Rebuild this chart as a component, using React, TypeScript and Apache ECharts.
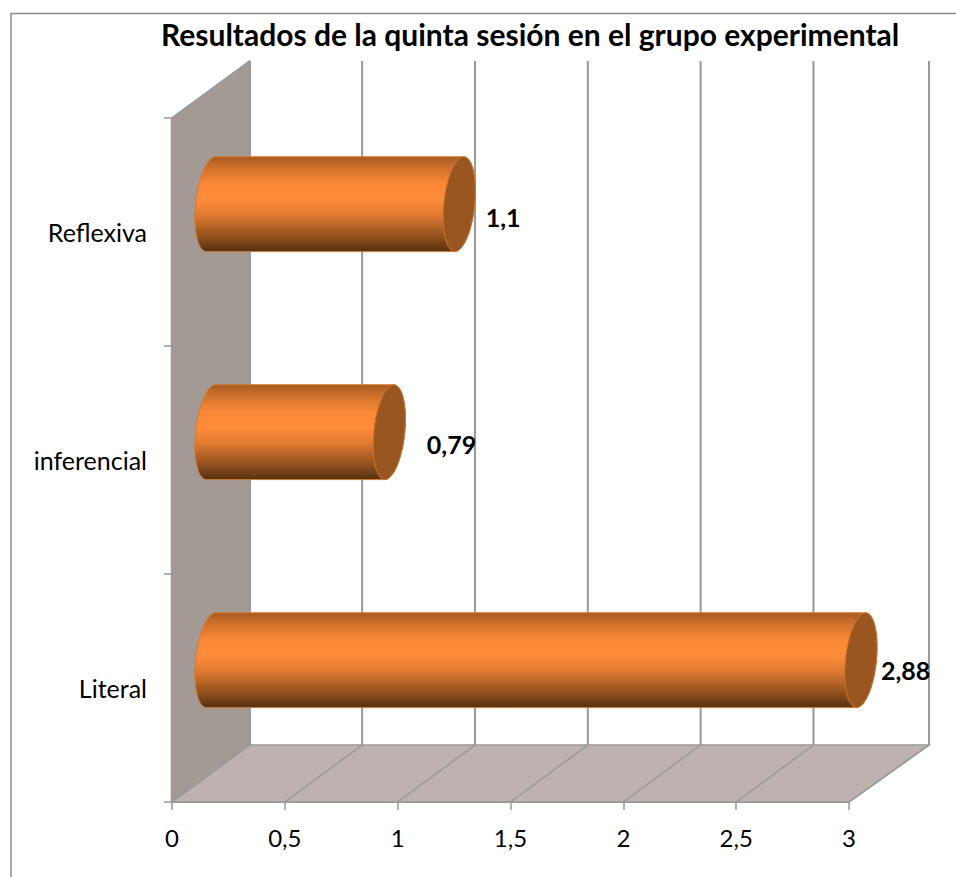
import React, { useEffect, useRef } from "react";
import * as echarts from "echarts";

const titleText = "Resultados de la quinta sesión en el grupo experimental";
const categories = ["Literal", "inferencial", "Reflexiva"];
const values = [2.88, 0.79, 1.1];
const xTicks = [0, 0.5, 1, 1.5, 2, 2.5, 3];
const labelTexts = ["2,88", "0,79", "1,1"];
const labelOffsets = [[4.5, 9.5], [22, 12], [11, 13]];

const FONT = "Lato";
const DX = 78; // depth of the 3D box
const DY = -57;
const GREY = "#999999";

function ellipsePts(cx: number, cy: number, rx: number, ry: number, skew: number, from: number, to: number) {
  const pts: number[][] = [];
  const n = 40;
  for (let i = 0; i <= n; i++) {
    const t = ((from + ((to - from) * i) / n) * Math.PI) / 180;
    pts.push([cx + rx * Math.cos(t) + skew * Math.sin(t), cy + ry * Math.sin(t)]);
  }
  return pts;
}

function renderBox(params: any, api: any) {
  const c = params.coordSys;
  const x0 = c.x, y0 = c.y, w = c.width, h = c.height, yb = y0 + h;
  const children: any[] = [
    {
      type: "polygon",
      shape: { points: [[x0 - 0.5, y0], [x0 + DX - 0.5, y0 + DY], [x0 + DX - 0.5, yb + DY], [x0 - 0.5, yb]] },
      style: { fill: "#A39A95", stroke: GREY, lineWidth: 1.5 },
    },
    {
      type: "polygon",
      shape: { points: [[x0, yb], [x0 + DX, yb + DY], [x0 + w + DX + 2, yb + DY], [x0 + w, yb]] },
      style: { fill: "#BDB2AF", stroke: GREY, lineWidth: 1.5 },
    },
  ];
  xTicks.forEach((t, i) => {
    const p = api.coord([t, 0]);
    const extra = i === 0 ? 0 : i === xTicks.length - 1 ? 2 : -0.7;
    const bx = p[0] + DX + extra;
    children.push({
      type: "line",
      shape: { x1: bx, y1: y0 + DY, x2: bx, y2: yb + DY },
      style: { stroke: GREY, lineWidth: 2 },
    });
    if (i > 0) {
      children.push({
        type: "line",
        shape: { x1: p[0], y1: yb, x2: bx, y2: yb + DY },
        style: { stroke: GREY, lineWidth: 1.5 },
      });
    }
  });
  return { type: "group", children };
}

function renderCylinder(params: any, api: any) {
  const v = api.value(0);
  const cat = api.value(1);
  const end = api.coord([v, cat]);
  const start = api.coord([0, cat]);
  const ry = api.size([0, 1])[1] * 0.208;
  const rx = 15.5;
  const skew = -4.5;
  const cy = end[1] + DY / 2 + 0.7;
  const lx = start[0] + DX / 2;
  const rxc = end[0] + DX / 2;
  const body = [
    ...ellipsePts(rxc, cy, rx, ry, skew, -90, 90),
    ...ellipsePts(lx, cy, rx, ry, skew, 90, 270),
  ];
  const off = labelOffsets[params.dataIndex];
  return {
    type: "group",
    children: [
      {
        type: "polygon",
        shape: { points: body },
        style: {
          fill: new echarts.graphic.LinearGradient(0, 0, 0, 1, [
            { offset: 0, color: "#A55A22" },
            { offset: 0.1, color: "#C96F2C" },
            { offset: 0.28, color: "#F98837" },
            { offset: 0.45, color: "#FF8C3A" },
            { offset: 0.62, color: "#DD7A31" },
            { offset: 0.85, color: "#8F4F1E" },
            { offset: 1, color: "#55300F" },
          ]),
          stroke: "#D47A36",
          lineWidth: 1,
        },
      },
      {
        type: "polygon",
        shape: { points: ellipsePts(rxc, cy, rx, ry, skew, 0, 360) },
        style: { fill: "#9A5620", stroke: "#C87331", lineWidth: 1 },
      },
      {
        type: "text",
        x: rxc + rx + off[0],
        y: cy + off[1],
        style: {
          text: labelTexts[params.dataIndex],
          fill: "#000",
          font: `bold 25px ${FONT}`,
          textAlign: "left",
          textVerticalAlign: "middle",
        },
      },
    ],
  };
}

export default function App() {
  const ref = useRef<HTMLDivElement>(null);
  useEffect(() => {
    const chart = echarts.init(ref.current!, undefined, { renderer: "svg" });
    chart.setOption({
      animation: false,
      backgroundColor: "#fff",
      title: {
        text: titleText,
        left: 156,
        top: 14,
        textStyle: { fontFamily: FONT, fontWeight: "bold", fontSize: 30, color: "#000" },
      },
      grid: { left: 172, top: 118, width: 677, height: 684, containLabel: false },
      xAxis: {
        type: "value",
        min: 0,
        max: 3,
        interval: 0.5,
        splitLine: { show: false },
        axisLine: { show: true, lineStyle: { color: GREY, width: 2 } },
        axisTick: { show: true, length: 8, lineStyle: { color: GREY, width: 1.5 } },
        axisLabel: {
          margin: 23,
          fontFamily: FONT,
          fontSize: 24,
          color: "#000",
          formatter: (v: number) => String(v).replace(".", ","),
        },
      },
      yAxis: {
        type: "category",
        data: categories,
        axisLine: { show: false },
        axisTick: { show: true, length: 8, lineStyle: { color: GREY, width: 1.5 } },
        axisLabel: { margin: 25, fontFamily: FONT, fontSize: 25, color: "#000" },
      },
      graphic: [
        {
          type: "polyline",
          shape: { points: [[11, 877], [11, 13.5], [956, 13.5]] },
          style: { stroke: "#8C8C8C", lineWidth: 1.5, fill: "none" },
        },
      ],
      series: [
        { type: "custom", z: 1, clip: false, silent: true, encode: { x: 0, y: 1 }, data: [[0, 0]], renderItem: renderBox },
        {
          type: "custom",
          z: 3,
          clip: false,
          encode: { x: 0, y: 1 },
          data: values.map((v, i) => [v, i]),
          renderItem: renderCylinder,
        },
      ],
    });
    return () => chart.dispose();
  }, []);
  return <div ref={ref} style={{ position: "fixed", left: 0, top: 0, width: 956, height: 877 }} />;
}
